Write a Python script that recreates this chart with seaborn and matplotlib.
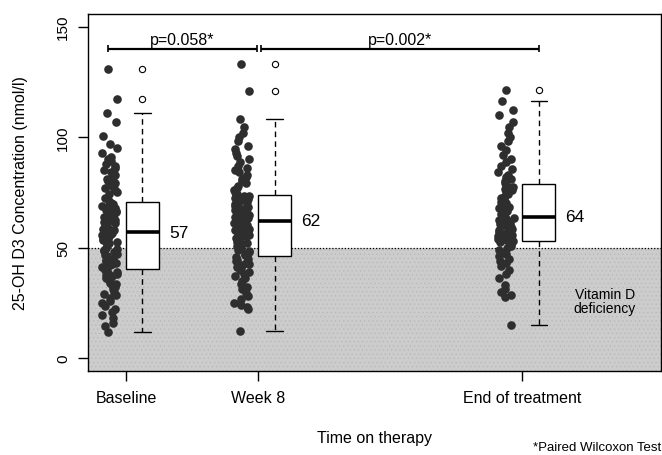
import numpy as np
import pandas as pd
import matplotlib
matplotlib.use("Agg")
import matplotlib.pyplot as plt
import seaborn as sns

# time points on the x axis (weeks on therapy)
timepoints = ["Baseline", "Week 8", "End of treatment"]
weeks = [0, 8, 24]
medians_shown = [57, 62, 64]
p_labels = ["p=0.058*", "p=0.002*"]

# 25-OH D3 concentrations (nmol/l)
baseline = [11.8, 14.5, 16, 18, 19.5, 21, 22, 23.5, 25, 26, 27, 28.5, 29, 30,
            31, 32, 33, 33.5, 34, 35, 35.5, 36, 37, 37.5, 38, 38.5, 39, 40,
            40.5, 41, 42, 42.5, 43, 44, 44.5, 45, 46, 46.5, 47, 48, 48.5, 49,
            49.5, 50, 51, 51.5, 52, 52.5, 53, 53.5, 54, 54.5, 55, 55.5, 56, 56.5,
            57.5, 58, 58.5, 59, 59.5, 60, 60.5, 61, 61.5, 62, 62.5, 63, 63.5, 64,
            64.5, 65, 65.5, 66, 66.5, 67, 67.5, 68, 68.5, 69, 69.3, 69.6, 69.9, 70.2,
            71, 72.5, 74, 75, 76, 77, 78, 79, 80, 81, 82, 83, 84, 85,
            86, 87, 88, 89, 90, 91, 93, 95, 97, 100.5, 106.8, 111, 117, 131]

week8 = [12.3, 22, 23, 24, 25, 26.5, 28, 29.5, 31, 32, 33.5, 35, 36, 37,
         38, 39, 40, 40.5, 41, 42, 42.5, 43, 44, 44.5, 45, 45.5, 46,
         46.5, 47, 48, 48.5, 49, 50, 50.5, 51, 52, 52.5, 53, 54, 54.5, 55,
         55.5, 56, 57, 57.5, 58, 58.5, 59, 59.5, 60, 60.5, 61, 61.5, 61.8,
         62.2, 62.5, 63, 63.5, 64, 64.5, 65, 65.5, 66, 66.5, 67, 67.5, 68, 68.5,
         69, 69.5, 70, 70.5, 71, 71.5, 72, 72.3, 72.6, 72.9, 73.1, 73.3, 73.4,
         74, 75, 76, 77, 78, 79, 80, 81, 82, 83, 84, 85, 86, 87,
         88.5, 90, 91.5, 93, 94.5, 96, 98, 100, 102, 104.5, 108, 120.7, 133]

end_tx = [15, 27.5, 28.5, 30, 31, 33, 36, 38, 40, 41.5, 43, 44, 45, 46,
          47, 48, 49, 50, 50.5, 51.5, 52, 52.5,
          53, 53.5, 54, 55, 55.5, 56, 56.5, 57, 57.5, 58, 58.5, 59, 59.5, 60,
          60.5, 61, 61.5, 62, 62.5, 63, 63.5, 63.8,
          64.2, 65, 66, 66.5, 67, 68, 68.5, 69, 70, 70.5, 71, 72, 72.5, 73,
          74, 74.5, 75, 76, 76.5, 77, 77.5, 78.4,
          79, 80, 81, 82, 83, 84, 85.5, 87, 88.5, 90, 92, 94, 96, 98,
          100, 102, 104.5, 107, 110, 112.4, 116.4, 121.3]

rows = []
for w, vals in zip(weeks, [baseline, week8, end_tx]):
    for v in vals:
        rows.append({"week": w, "conc": v})
df = pd.DataFrame(rows)
# raw points just left of each time point, box just right of it
df["strip_x"] = df["week"] - 1
df["box_x"] = df["week"] + 1

sns.set_theme(style="white")
plt.rcParams["font.family"] = ["Liberation Sans", "DejaVu Sans"]
plt.rcParams["text.color"] = "black"
plt.rcParams["axes.labelcolor"] = "black"
plt.rcParams["xtick.color"] = "black"
plt.rcParams["ytick.color"] = "black"
plt.rcParams["hatch.linewidth"] = 0.35

fig = plt.figure(figsize=(6.62, 4.56), dpi=100)
ax = fig.add_axes([88 / 662, 1 - 372 / 456, 573 / 662, 357 / 456])

# vitamin D deficiency zone (stippled grey)
ax.axhspan(-20, 50, facecolor="#cccccc", edgecolor="#b5b5b5", hatch="....",
           lw=0, zorder=0)
ax.axhline(50, color="black", ls=(0, (1, 1.5)), lw=0.9, zorder=0.5)

sns.stripplot(data=df, x="strip_x", y="conc", native_scale=True, orient="x",
              jitter=0.06, color="#2e2e2e", size=6.2, linewidth=0,
              ax=ax, zorder=2)

sns.boxplot(data=df, x="box_x", y="conc", native_scale=True, orient="x",
            width=0.25, color="white", saturation=1, linecolor="black",
            linewidth=1, fliersize=4.5,
            whiskerprops=dict(linestyle=(0, (4, 3))),
            medianprops=dict(linewidth=2.6),
            flierprops=dict(marker="o", markerfacecolor="white",
                            markeredgecolor="black", markeredgewidth=0.8),
            ax=ax)

for w, m in zip(weeks, medians_shown):
    ax.text(w + 2.6, m, str(m), ha="left", va="center", fontsize=12.5)

# significance brackets
for (x0, x1), lab in zip([(-1.1, 7.95), (8.15, 25.0)], p_labels):
    ax.plot([x0, x1], [140, 140], color="black", lw=1.6, solid_capstyle="butt")
    ax.vlines([x0, x1], 138.5, 141.5, color="black", lw=1.2)
    ax.text((x0 + x1) / 2, 141.9, lab, ha="center", va="baseline", fontsize=11.5)

ax.text(29, 25.8, "Vitamin D\ndeficiency", ha="center", va="center",
        fontsize=10, linespacing=1.05)

ax.set_xlim(-2.3, 32.4)
ax.set_ylim(-5.9, 155.7)
ax.set_xticks(weeks, timepoints)
ax.set_yticks([0, 50, 100, 150])
ax.tick_params(axis="both", direction="out", length=7, width=1, color="black",
               bottom=True, left=True)
ax.tick_params(axis="x", labelsize=11.5, pad=7)
ax.tick_params(axis="y", labelsize=11, pad=6, labelrotation=90)
for lbl in ax.get_yticklabels():
    lbl.set_va("center")

for s in ax.spines.values():
    s.set_color("black")
    s.set_linewidth(1)

ax.set_xlabel("Time on therapy", fontsize=11.5)
ax.set_ylabel("25-OH D3 Concentration (nmol/l)", fontsize=11.5)
ax.xaxis.set_label_coords(0.5, -0.165)
ax.yaxis.set_label_coords(-0.105, 0.5)

fig.text(661 / 662, 1 - 448 / 456, "*Paired Wilcoxon Test", ha="right",
         va="center", fontsize=9.5)

fig.savefig("out.png", dpi=100)
